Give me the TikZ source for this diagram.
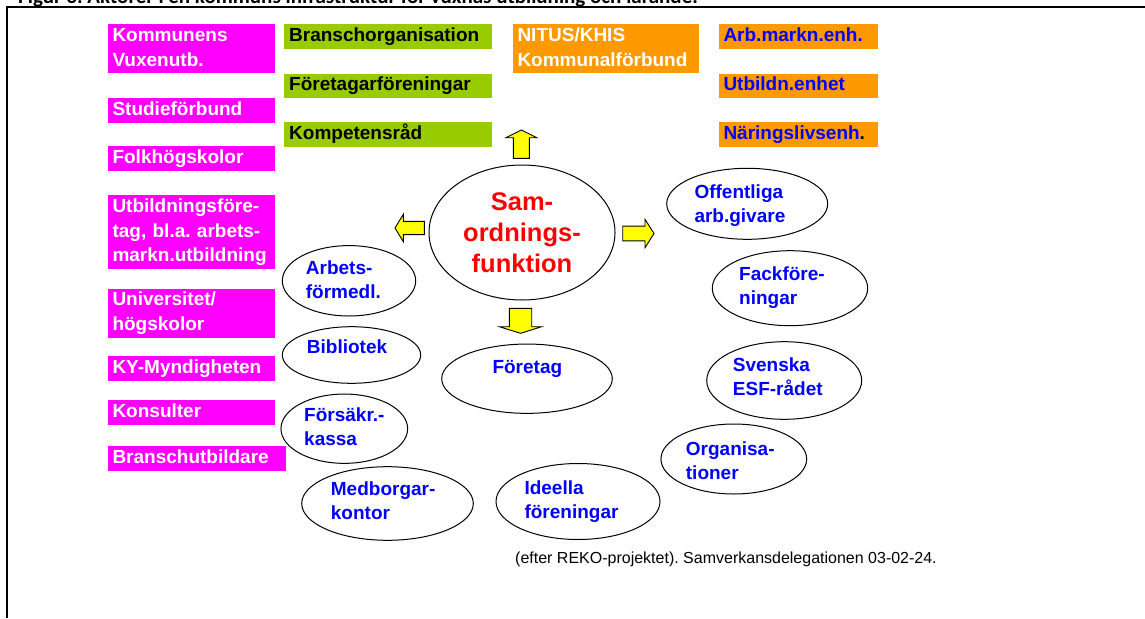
\documentclass[tikz,border=0pt]{standalone}
\usepackage{fontspec}
\setmainfont{Liberation Sans}
\newfontfamily\capfont{Carlito}
\usetikzlibrary{shapes}
\frenchspacing
\definecolor{boxMagenta}{RGB}{255,0,255}
\definecolor{boxGreen}{RGB}{153,204,0}
\definecolor{boxOrange}{RGB}{255,153,0}
\definecolor{txtBlue}{RGB}{0,0,255}
\definecolor{arrYellow}{RGB}{255,255,0}
\newcommand{\fatArrow}[7]{\filldraw[fill=arrYellow, draw=black, line width=0.9pt, shift={(#1,#2)}, rotate=#3] (0,-#5/2) -- (#4-#7,-#5/2) -- (#4-#7,-#6/2) -- (#4,0) -- (#4-#7,#6/2) -- (#4-#7,#5/2) -- (0,#5/2) -- cycle;}
\tikzset{
  box/.style={rectangle, anchor=north west, inner xsep=5pt, inner ysep=0pt, align=left,
    font=\fontsize{19}{24.6}\selectfont\bfseries, execute at begin node=\strut, execute at end node=\strut},
  magbox/.style={box, fill=boxMagenta, text=white, text width=157.7pt},
  grnbox/.style={box, fill=boxGreen, text=black, text width=197.7pt},
  orgbox/.style={box, fill=boxOrange, text=txtBlue, text width=149.4pt},
  oval/.style={ellipse, draw=black, line width=1pt, inner sep=0pt},
  ovaltext/.style={anchor=base west, align=left, inner sep=0pt, text=txtBlue,
    font=\fontsize{19}{24}\selectfont\bfseries}
}
\begin{document}
\begin{tikzpicture}[x=1pt, y=-1pt]
    \useasboundingbox (0,0) rectangle (1145,618);
    % caption and frame
    \begin{scope}
      \clip (0,0) rectangle (1145,618);
      \node[anchor=base west, inner sep=0pt, font=\capfont\bfseries\fontsize{21}{25}\selectfont] (title) at (18,4)
        {Figur 3. Aktörer i en kommuns infrastruktur för vuxnas utbildning och lärande.};
    \end{scope}
    \draw[line width=2pt] (1145,7) -- (7,7) -- (7,618);
    % magenta column
    \node[magbox] (kommunens) at (107.3,24) {Kommunens\\Vuxenutb.};
    \node[magbox] (studie) at (107.3,97.7) {Studieförbund};
    \node[magbox] (folkhogsk) at (107.3,146) {Folkhögskolor};
    \node[magbox] (utbforetag) at (107.3,195) {Utbildningsföre-\\tag, bl.a. arbets-\\markn.utbildning};
    \node[magbox] (univ) at (107.3,288.3) {Universitet/\\högskolor};
    \node[magbox] (kymynd) at (107.3,356) {KY-Myndigheten};
    \node[magbox] (konsult) at (107.3,400) {Konsulter};
    \node[magbox, text width=168.4pt] (bransch) at (107.3,445.7) {Branschutbildare};
    % green column
    \node[grnbox] (branschorg) at (284,24) {Branschorganisation};
    \node[grnbox] (foretagarf) at (284,73.3) {Företagarföreningar};
    \node[grnbox] (kompetens) at (284,121.7) {Kompetensråd};
    % orange boxes
    \node[orgbox, text=white, text width=176.7pt] (nitus) at (512.3,24) {NITUS/KHIS\\Kommunalförbund};
    \node[orgbox] (arbmarkn) at (718.3,24) {Arb.markn.enh.};
    \node[orgbox] (utbenhet) at (718.3,73.3) {Utbildn.enhet};
    \node[orgbox, text=black] (naring) at (718.3,121.7) {{\color{txtBlue}Näringslivsenh}.};
    % centre
    \node[oval, minimum width=186pt, minimum height=135pt, align=center, text=red,
      font=\fontsize{25.5}{31}\selectfont\bfseries] (samord) at (522,232.5) {Sam-\\ordnings-\\funktion};
    \fatArrow{521.4}{158.3}{90}{28.3}{16}{30.7}{7.7}
    \fatArrow{424.3}{228}{180}{29.3}{13.3}{27.4}{8.3}
    \fatArrow{622.7}{233.5}{0}{31.3}{14.7}{28.4}{9}
    \fatArrow{520.5}{308.3}{-90}{25}{22.4}{42.4}{6.6}
    % ovals, left (text placed at baseline of last line)
    \node[oval, minimum width=133.4pt, minimum height=70.4pt] (arbetsf) at (349,280.8) {};
    \node[ovaltext] (arbetsf-txt) at (305.7,298.3) {Arbets-\\förmedl.};
    \node[oval, minimum width=138.4pt, minimum height=56.6pt] (bibl) at (351.5,355) {};
    \node[ovaltext] (bibl-txt) at (306.7,353.3) {Bibliotek};
    \node[oval, minimum width=126.7pt, minimum height=69.3pt] (forsakr) at (344.3,428.7) {};
    \node[ovaltext] (forsakr-txt) at (304,445.7) {Försäkr.-\\kassa};
    \node[oval, minimum width=171.6pt, minimum height=73.6pt] (medborg) at (387.5,503.5) {};
    \node[ovaltext] (medborg-txt) at (330.7,519.7) {Medborgar-\\kontor};
    % ovals, bottom
    \node[oval, minimum width=170.6pt, minimum height=69.3pt] (foretag) at (527,378.7) {};
    \node[ovaltext] (foretag-txt) at (492.3,373.3) {Företag};
    \node[oval, minimum width=164pt, minimum height=76pt] (ideella) at (578,501.5) {};
    \node[ovaltext] (ideella-txt) at (524.3,518) {Ideella\\föreningar};
    % ovals, right
    \node[oval, minimum width=161pt, minimum height=71pt] (offentl) at (747.2,203.8) {};
    \node[ovaltext] (offentl-txt) at (694.3,222.3) {Offentliga\\arb.givare};
    \node[oval, minimum width=155.4pt, minimum height=75pt] (fack) at (790,288.2) {};
    \node[ovaltext] (fack-txt) at (739,304.7) {Fackföre-\\ningar};
    \node[oval, minimum width=155pt, minimum height=77.6pt] (svesf) at (784.2,380.5) {};
    \node[ovaltext] (svesf-txt) at (732.7,395.7) {Svenska\\ESF-rådet};
    \node[oval, minimum width=145.7pt, minimum height=70pt] (organis) at (733.8,459) {};
    \node[ovaltext] (organis-txt) at (685.7,479) {Organisa-\\tioner};
    % source
    \node[anchor=base west, inner sep=0pt, font=\fontsize{16}{19}\selectfont] (source) at (515,563.3)
      {(efter REKO-projektet). Samverkansdelegationen 03-02-24.};
\end{tikzpicture}
\end{document}
